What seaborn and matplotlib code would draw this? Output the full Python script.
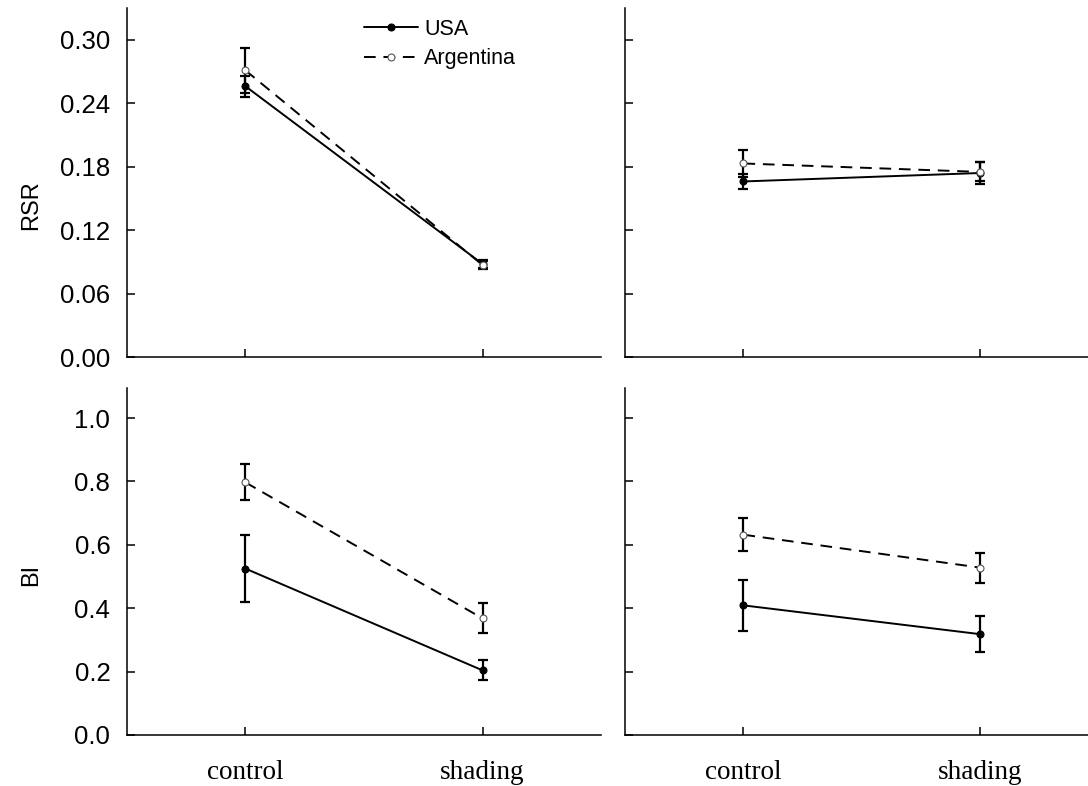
import matplotlib
matplotlib.use("Agg")
import matplotlib.pyplot as plt
import numpy as np
import pandas as pd
import seaborn as sns

treatments = ["control", "shading"]
countries = ["USA", "Argentina"]

# RSR means and SE, (left panel / right panel)
rsr_left_usa = [0.256, 0.088]
rsr_left_usa_se = [0.010, 0.004]
rsr_left_arg = [0.271, 0.087]
rsr_left_arg_se = [0.021, 0.004]
rsr_right_usa = [0.166, 0.174]
rsr_right_usa_se = [0.007, 0.010]
rsr_right_arg = [0.183, 0.175]
rsr_right_arg_se = [0.013, 0.009]

# BI means and SE
bi_left_usa = [0.525, 0.204]
bi_left_usa_se = [0.105, 0.032]
bi_left_arg = [0.797, 0.368]
bi_left_arg_se = [0.057, 0.047]
bi_right_usa = [0.409, 0.318]
bi_right_usa_se = [0.080, 0.057]
bi_right_arg = [0.632, 0.528]
bi_right_arg_se = [0.052, 0.047]

rsr_ticks = [0.00, 0.06, 0.12, 0.18, 0.24, 0.30]
bi_ticks = [0.0, 0.2, 0.4, 0.6, 0.8, 1.0]


def make_df(usa, usa_se, arg, arg_se):
    return pd.DataFrame({
        "treatment": treatments * 2,
        "country": ["USA"] * 2 + ["Argentina"] * 2,
        "mean": list(usa) + list(arg),
        "se": list(usa_se) + list(arg_se),
    })


panels = {
    (0, 0): make_df(rsr_left_usa, rsr_left_usa_se, rsr_left_arg, rsr_left_arg_se),
    (0, 1): make_df(rsr_right_usa, rsr_right_usa_se, rsr_right_arg, rsr_right_arg_se),
    (1, 0): make_df(bi_left_usa, bi_left_usa_se, bi_left_arg, bi_left_arg_se),
    (1, 1): make_df(bi_right_usa, bi_right_usa_se, bi_right_arg, bi_right_arg_se),
}

sns.set_theme(style="ticks", rc={
    "text.color": "black",
    "axes.labelcolor": "black",
    "axes.edgecolor": "black",
    "xtick.color": "black",
    "ytick.color": "black",
})
plt.rcParams["font.family"] = ["Liberation Sans", "DejaVu Sans"]
plt.rcParams["axes.linewidth"] = 1.1

fig = plt.figure(figsize=(10.88, 7.86), dpi=100)
w = 0.4357
positions = {
    (0, 0): [0.1167, 0.5458, w, 0.444],
    (0, 1): [0.5744, 0.5458, w, 0.444],
    (1, 0): [0.1167, 0.0649, w, 0.4415],
    (1, 1): [0.5744, 0.0649, w, 0.4415],
}

styles = {
    "USA": dict(ls="-", mfc="black", mec="black"),
    "Argentina": dict(ls=(0, (6, 4)), mfc="white", mec="#555555"),
}

for (r, c), df in panels.items():
    ax = fig.add_axes(positions[(r, c)])
    for country in countries:
        sub = df[df["country"] == country]
        st = styles[country]
        ax.errorbar(np.arange(len(sub)), sub["mean"], yerr=sub["se"], fmt="none",
                    ecolor="black", elinewidth=1.6, capsize=3.5, capthick=1.6, zorder=2)
        sns.lineplot(data=sub, x="treatment", y="mean", ax=ax, color="black",
                     linestyle=st["ls"], linewidth=1.4, marker="o", markersize=5,
                     markerfacecolor=st["mfc"], markeredgecolor=st["mec"],
                     markeredgewidth=0.8, label=country, legend=False, zorder=3)
    ax.set_xlim(-0.5, 1.5)
    if r == 0:
        ax.set_ylim(0, 0.330)
        ax.set_yticks(rsr_ticks)
        ax.set_yticklabels([f"{t:.2f}" for t in rsr_ticks])
    else:
        ax.set_ylim(0, 1.095)
        ax.set_yticks(bi_ticks)
        ax.set_yticklabels([f"{t:.1f}" for t in bi_ticks])
    ax.set_xlabel("")
    ax.set_ylabel("")
    ax.tick_params(axis="both", direction="in", length=6, width=1.1, colors="black")
    ax.tick_params(axis="y", labelsize=18.5, pad=12)
    ax.tick_params(axis="x", pad=18)
    sns.despine(ax=ax)
    ax.set_xticks([0, 1])
    if r == 1:
        ax.set_xticklabels(treatments, fontsize=19.5, family="Liberation Serif")
    else:
        ax.set_xticklabels([])
    if c == 1:
        ax.set_yticklabels([])
    else:
        ax.set_ylabel("RSR" if r == 0 else "BI", fontsize=17, color="black")
        ax.yaxis.set_label_coords(-0.18, 0.436 if r == 0 else 0.461)
    if (r, c) == (0, 0):
        ax.legend(loc="upper left", bbox_to_anchor=(0.459, 1.025), frameon=False,
                  fontsize=15.5, handlelength=2.5, labelspacing=0.4, handletextpad=0.3,
                  labelcolor="black")

fig.savefig("out.png", dpi=100)
